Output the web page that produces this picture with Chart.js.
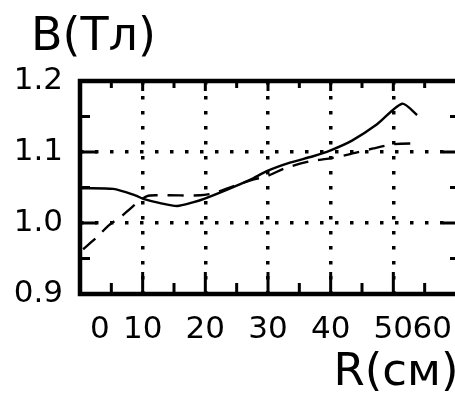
<!DOCTYPE html>
<html>
<head>
<meta charset="utf-8">
<script src="https://cdn.jsdelivr.net/npm/chart.js@4.4.1/dist/chart.umd.min.js"></script>
<style>
html, body { margin: 0; padding: 0; background: #fff; overflow: hidden; }
#wrap { position: relative; width: 462px; height: 396px; }
</style>
</head>
<body>
<div id="wrap"><canvas id="chart"></canvas></div>
<script>
"use strict"

// R (cm) and B (T)
var solidR = [0, 5.3, 8.8, 10.1, 12.8, 15.5, 18, 19.8, 23.5, 27.2, 29.8, 33.5, 37.2, 39.9, 43.4, 47.4, 51.4, 53.8];
var solidB = [1.049, 1.048, 1.039, 1.034, 1.028, 1.024, 1.029, 1.034, 1.047, 1.061, 1.073, 1.085, 1.094, 1.102, 1.116, 1.139, 1.168, 1.152];

var dashedR = [0.5, 2.7, 4.5, 6.7, 8.8, 10.7, 12.8, 19.2, 21.3, 24.5, 27.6, 29.8, 33, 36.7, 39.9, 43.1, 46.8, 50, 52.7, 54];
var dashedB = [0.963, 0.980, 0.996, 1.010, 1.026, 1.038, 1.039, 1.039, 1.042, 1.052, 1.061, 1.066, 1.078, 1.087, 1.091, 1.097, 1.105, 1.111, 1.112, 1.111];

var xMin = 0, xMax = 60, xStep = 5;
var yMin = 0.9, yMax = 1.2, yStep = 0.05;

var yTitle = "B(Тл)";
var xTitle = "R(см)";

function toPoints(xs, ys){
    var arr = [];
    for (var i in xs){
        arr.push({x: xs[i], y: ys[i]});
    }
    return arr;
}

function isMajorX(v){
    return Math.round(v) % 10 === 0;
}

function isMajorY(v){
    return Math.round(v * 100) % 10 === 0;
}

// dotted grid only on inner major lines
function gridColorX(ctx){
    var v = ctx.tick ? ctx.tick.value : null;
    if (v === null || !isMajorX(v) || v <= xMin || v >= xMax){
        return "rgba(0,0,0,0)";
    }
    return "#000";
}

function gridColorY(ctx){
    var v = ctx.tick ? ctx.tick.value : null;
    if (v === null || !isMajorY(v) || v <= yMin + 0.001 || v >= yMax - 0.001){
        return "rgba(0,0,0,0)";
    }
    return "#000";
}

// frame, inward tick marks, x labels (squeezed at the ends) and titles
var framePlugin = {
    id: "frame",
    afterDatasetsDraw: function(chart){
        var ctx = chart.ctx;
        var a = chart.chartArea;
        var xs = chart.scales.x;
        var ys = chart.scales.y;

        ctx.save();
        ctx.strokeStyle = "#000";
        ctx.setLineDash([]);
        ctx.lineWidth = 3;
        ctx.beginPath();
        for (var i in xs.ticks){
            var v = xs.ticks[i].value;
            if (v <= xMin || v >= xMax) continue;
            var px = xs.getPixelForValue(v);
            var major = isMajorX(v);
            ctx.moveTo(px, a.bottom);
            ctx.lineTo(px, a.bottom - (major ? 22 : 11));
            ctx.moveTo(px, a.top);
            ctx.lineTo(px, a.top + (major ? 10 : 7));
        }
        for (var j in ys.ticks){
            var w = ys.ticks[j].value;
            if (w <= yMin + 0.001 || w >= yMax - 0.001) continue;
            var py = ys.getPixelForValue(w);
            var maj = isMajorY(w);
            ctx.moveTo(a.left, py);
            ctx.lineTo(a.left + (maj ? 17 : 10), py);
            ctx.moveTo(a.right + 3, py);
            ctx.lineTo(a.right + 3 - (maj ? 16 : 9), py);
        }
        ctx.stroke();

        ctx.lineWidth = 4.5;
        ctx.beginPath();
        ctx.moveTo(a.right + 6, a.top);
        ctx.lineTo(a.left, a.top);
        ctx.lineTo(a.left, a.bottom);
        ctx.lineTo(a.right + 6, a.bottom);
        ctx.stroke();

        ctx.fillStyle = "#000";
        ctx.textBaseline = "alphabetic";

        ctx.font = "31px 'DejaVu Sans'";
        ctx.textAlign = "center";
        for (var k in xs.ticks){
            var t = xs.ticks[k].value;
            if (!isMajorX(t)) continue;
            var label = String(Math.round(t));
            var half = ctx.measureText(label).width / 2;
            var cx = xs.getPixelForValue(t);
            cx = Math.max(cx, a.left + 10 + half);
            cx = Math.min(cx, a.right - 4 - half);
            ctx.fillText(label, cx, a.bottom + 44);
        }

        ctx.textAlign = "left";
        ctx.font = "46px 'DejaVu Sans'";
        var m1 = ctx.measureText(yTitle);
        ctx.fillText(yTitle, 35 + m1.actualBoundingBoxLeft, 50);

        ctx.font = "45px 'DejaVu Sans'";
        var m2 = ctx.measureText(xTitle);
        ctx.fillText(xTitle, a.right - 1 - m2.actualBoundingBoxRight, 385);
        ctx.restore();
    }
};

Chart.defaults.font.family = "'DejaVu Sans', sans-serif";
Chart.defaults.color = "#000";

var chart = new Chart(document.getElementById("chart"), {
    type: "line",
    data: {
        datasets: [{
            label: "solid",
            data: toPoints(solidR, solidB),
            borderColor: "#000",
            borderWidth: 2.4,
            pointRadius: 0,
            tension: 0.25,
            fill: false
        }, {
            label: "dashed",
            data: toPoints(dashedR, dashedB),
            borderColor: "#000",
            borderWidth: 2.4,
            borderDash: [16, 10],
            pointRadius: 0,
            tension: 0.25,
            fill: false
        }]
    },
    options: {
        responsive: true,
        maintainAspectRatio: false,
        animation: false,
        events: [],
        layout: { padding: { left: 0, right: 6, top: 81, bottom: 0 } },
        plugins: {
            legend: { display: false },
            tooltip: { enabled: false }
        },
        scales: {
            x: {
                type: "linear",
                min: xMin,
                max: xMax,
                afterFit: function(scale){
                    scale.height = 102;
                    scale.paddingLeft = 0;
                    scale.paddingRight = 0;
                },
                ticks: {
                    stepSize: xStep,
                    autoSkip: false,
                    display: false
                },
                grid: {
                    color: gridColorX,
                    lineWidth: 3.5,
                    drawTicks: false
                },
                border: { display: false, dash: [3.5, 11.5] }
            },
            y: {
                type: "linear",
                min: yMin,
                max: yMax,
                afterFit: function(scale){
                    scale.width = 80;
                    scale.paddingTop = 0;
                    scale.paddingBottom = 0;
                },
                ticks: {
                    stepSize: yStep,
                    autoSkip: false,
                    padding: 17,
                    font: { size: 31 },
                    callback: function(v){ return isMajorY(v) ? v.toFixed(1) : ""; }
                },
                grid: {
                    color: gridColorY,
                    lineWidth: 3.5,
                    drawTicks: false
                },
                border: { display: false, dash: [3.5, 11.5] }
            }
        }
    },
    plugins: [framePlugin]
});
</script>
</body>
</html>
